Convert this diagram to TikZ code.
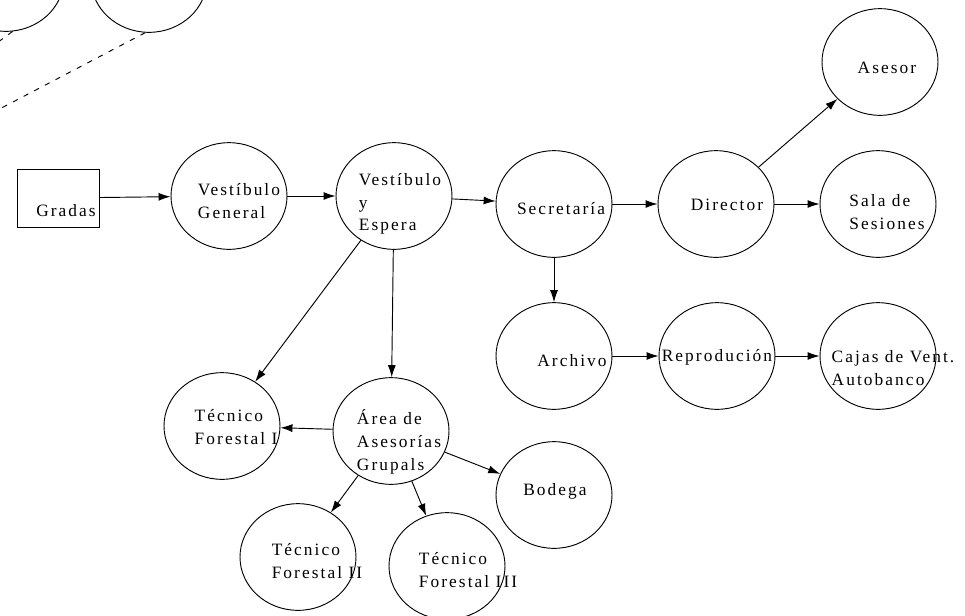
\documentclass[tikz,border=0pt]{standalone}
\usepackage{fontspec}
\setmainfont{Liberation Serif}[LetterSpace=12]
\usetikzlibrary{shapes.geometric,arrows.meta}

\begin{document}
\begin{tikzpicture}[x=0.75pt,y=-0.75pt,
  every node/.style={font=\fontsize{13}{17}\selectfont},
  place/.style={draw,ellipse,minimum width=87pt,minimum height=80pt,inner sep=0pt,line width=.7pt},
  txt/.style={align=left,inner sep=0pt},
  link/.style={line width=.7pt,-{Latex[length=9pt,width=6pt]}}]
 \useasboundingbox (0,0) rectangle (965,615);
 \clip (0,0) rectangle (965,615);
 % places cut off at the top
 \node[place] (topa) at (6,-22) {};
 \node[place] (topb) at (149,-21) {};
 \coordinate (dasha) at (-10,48);
 \coordinate (dashb) at (-10,114);
 \draw[line width=.7pt,dash pattern=on 4pt off 5pt] (topa.277) -- (dasha) (topb.266) -- (dashb);
 % entrance
 \node[draw,line width=.7pt,minimum width=61.5pt,minimum height=43.5pt] (gradas) at (58,198) {};
 \node[txt] (gradas-t) at (66,211) {Gradas};
 \foreach \n/\x/\y/\dx/\dy/\lbl in {
   vg/229/196/10/5/{Vestíbulo\\General},
   vye/394/196/6/8/{Vestíbulo\\y\\Espera},
   sec/554/204/7/5/{Secretaría},
   dir/716/204/11/1/{Director},
   sala/878/204/9/8/{Sala de\\Sesiones},
   asesor/880/62/7/6/{Asesor},
   arch/554/356/18/5/{Archivo},
   repro/717/356/0/1/{Reprodución},
   cajas/878/356/15/12/{Cajas de Vent.\\Autobanco},
   tf1/222/426/14/1/{Técnico\\Forestal I},
   area/391/431/8/11/{Área de\\Asesorías\\Grupals},
   bod/554/495/1/-4/{Bodega},
   tf2/298/557/19/4/{Técnico\\Forestal II},
   tf3/447/566/21/4/{Técnico\\Forestal III}}{
  \node[place] (\n) at (\x,\y) {};
  \node[txt] (\n-t) at (\x+\dx,\y+\dy) {\lbl};
 }
 \foreach \a/\b in {gradas/vg,vg/vye,vye/sec,sec/dir,dir/sala,dir/asesor,
   sec/arch,arch/repro,repro/cajas,vye/tf1,vye/area,area/tf1,area/bod,area/tf2,area/tf3}
  \draw[link] (\a) -- (\b);
\end{tikzpicture}
\end{document}
